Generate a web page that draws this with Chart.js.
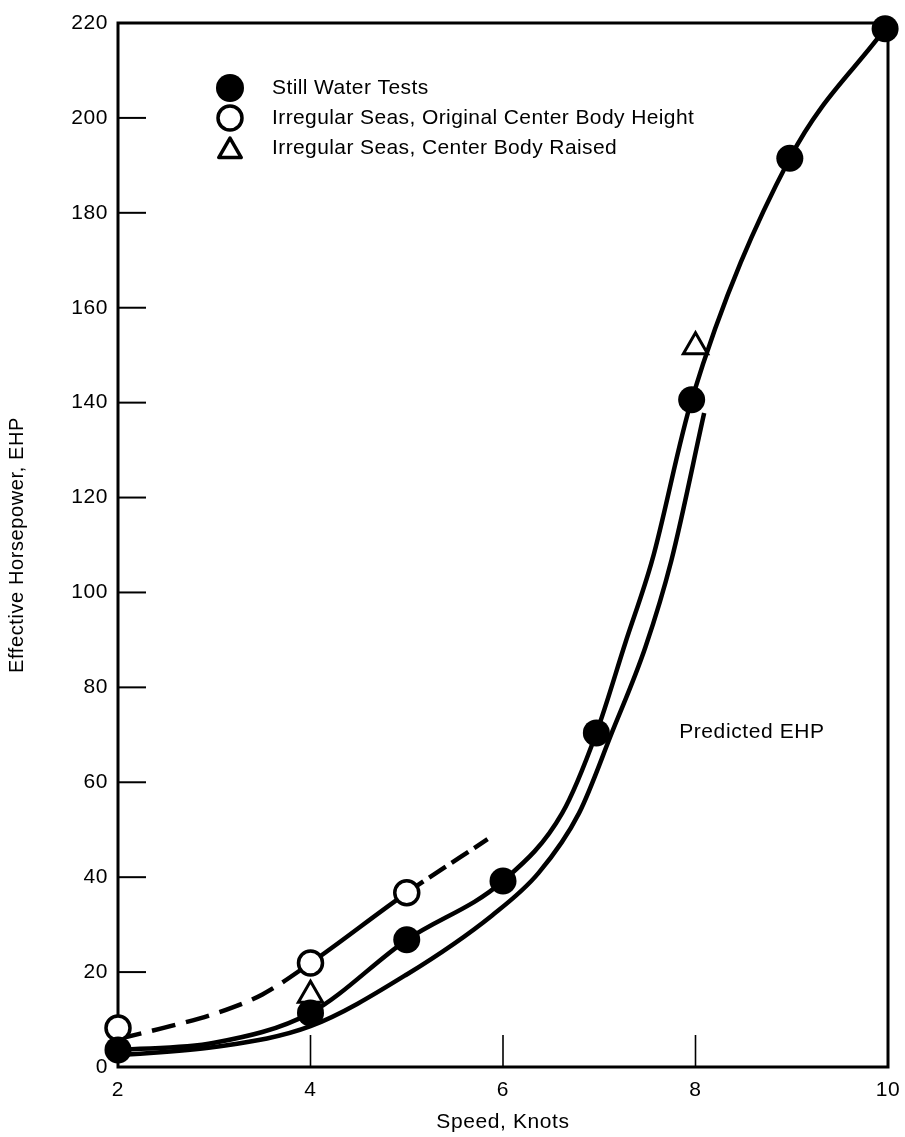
<!DOCTYPE html>
<html><head><meta charset="utf-8">
<script src="https://cdn.jsdelivr.net/npm/chart.js@4.4.0/dist/chart.umd.min.js"></script>
<style>html,body{margin:0;padding:0;background:#fff;}canvas{display:block;}</style>
</head><body>
<canvas id="c" width="905" height="1137"></canvas>
<script>
// ---- data ----
const xTickValues = [2, 4, 6, 8, 10];
const yTickValues = [0, 20, 40, 60, 80, 100, 120, 140, 160, 180, 200, 220];

// markers
const stillWaterX = [2, 4, 5, 6, 6.97, 7.96, 8.98, 9.97];
const stillWaterY = [3.6, 11.4, 26.8, 39.2, 70.4, 140.6, 191.5, 218.8];
const irregularOrigX = [2, 4, 5];
const irregularOrigY = [8.2, 21.9, 36.7];
const irregularRaisedX = [4, 8];
const irregularRaisedY = [15.1, 151.8];

// curves
const stillCurveX = [2, 3, 4, 5, 6, 6.615, 6.97, 7.27, 7.55, 7.96, 8.98, 9.97];
const stillCurveY = [3.6, 5.1, 11.4, 26.8, 39.2, 53.5, 70.4, 89.3, 106.8, 140.6, 191.5, 218.8];
const predictedCurveX = [2, 3, 4, 5, 5.89, 6.37, 6.79, 7.13, 7.48, 7.75, 8.09];
const predictedCurveY = [2.5, 4.2, 8.6, 19.5, 32, 40.9, 53.5, 70.4, 88.5, 106.8, 137.8];
const irregularCurveX = [2, 2.6, 3, 3.5, 4, 5, 5.84];
const irregularCurveY = [5.9, 8.9, 11.2, 15.3, 21.9, 36.7, 48];

const legendLabels = ['Still Water Tests', 'Irregular Seas, Original Center Body Height', 'Irregular Seas, Center Body Raised'];
const xTitle = 'Speed, Knots';
const yTitle = 'Effective Horsepower, EHP';
const noteText = 'Predicted EHP';
const notePos = [7.83, 70.5];

const pts = (xs, ys) => xs.map((x, i) => ({x, y: ys[i]}));
const FONT = '"Liberation Sans", Arial, sans-serif';

Chart.defaults.color = '#000';
Chart.defaults.font.family = FONT;

const framePlugin = {
  id: 'frame',
  beforeDraw(chart) { chart.ctx.letterSpacing = '0.6px'; },
  beforeDatasetsDraw(chart) {
    const {ctx, chartArea: a, scales: {x, y}} = chart;
    ctx.save();
    ctx.strokeStyle = '#000';
    ctx.lineWidth = 3;
    ctx.strokeRect(a.left, a.top, a.right - a.left, a.bottom - a.top);
    ctx.lineWidth = 2;
    yTickValues.forEach(v => {
      if (v === y.min || v === y.max) return;
      const py = y.getPixelForValue(v);
      ctx.beginPath(); ctx.moveTo(a.left, py); ctx.lineTo(a.left + 28, py); ctx.stroke();
    });
    ctx.lineWidth = 1.6;
    xTickValues.forEach(v => {
      if (v === x.min || v === x.max) return;
      const px = x.getPixelForValue(v);
      ctx.beginPath(); ctx.moveTo(px, a.bottom); ctx.lineTo(px, a.bottom - 32); ctx.stroke();
    });
    ctx.restore();
  },
  afterDraw(chart) {
    const {ctx, scales: {x, y}} = chart;
    ctx.save();
    ctx.letterSpacing = '0.6px';
    ctx.fillStyle = '#000';
    ctx.font = '21px ' + FONT;
    ctx.textBaseline = 'middle';
    ctx.textAlign = 'left';
    ctx.fillText(noteText, x.getPixelForValue(notePos[0]), y.getPixelForValue(notePos[1]));
    const lx = 230, tx = 272, rows = [88, 118, 148];
    ctx.letterSpacing = '0.4px';
    legendLabels.forEach((t, i) => ctx.fillText(t, tx, rows[i]));
    ctx.strokeStyle = '#000';
    ctx.beginPath(); ctx.arc(lx, rows[0], 14, 0, Math.PI * 2); ctx.fill();
    ctx.lineWidth = 3.5;
    ctx.beginPath(); ctx.arc(lx, rows[1], 12, 0, Math.PI * 2); ctx.stroke();
    const r = 13, cy = rows[2] + 3;
    ctx.beginPath();
    for (let k = 0; k < 3; k++) {
      const ang = k * 2 * Math.PI / 3;
      const px = lx + Math.sin(ang) * r, py = cy - Math.cos(ang) * r;
      k === 0 ? ctx.moveTo(px, py) : ctx.lineTo(px, py);
    }
    ctx.closePath(); ctx.lineJoin = 'round'; ctx.stroke();
    ctx.restore();
  }
};

const curveStyle = { showLine: true, pointRadius: 0, borderColor: '#000', borderWidth: 4.5,
  cubicInterpolationMode: 'monotone', clip: false };

new Chart(document.getElementById('c'), {
  type: 'scatter',
  data: {
    datasets: [
      { label: legendLabels[0], data: pts(stillWaterX, stillWaterY), pointStyle: 'circle', pointRadius: 13.5,
        backgroundColor: '#000', borderColor: '#000', borderWidth: 0, showLine: false, clip: false },
      { label: legendLabels[1], data: pts(irregularOrigX, irregularOrigY), pointStyle: 'circle', pointRadius: 12,
        backgroundColor: '#fff', borderColor: '#000', borderWidth: 3.5, showLine: false, clip: false },
      { label: legendLabels[2], data: pts(irregularRaisedX, irregularRaisedY), pointStyle: 'triangle', pointRadius: 14,
        backgroundColor: '#fff', borderColor: '#000', borderWidth: 3, showLine: false, clip: false },
      Object.assign({ label: 'Still water curve', data: pts(stillCurveX, stillCurveY) }, curveStyle),
      Object.assign({ label: 'Predicted EHP', data: pts(predictedCurveX, predictedCurveY) }, curveStyle),
      Object.assign({ label: 'Irregular seas curve', data: pts(irregularCurveX, irregularCurveY),
        segment: { borderDash: c => c.p1.parsed.x <= 4.01 ? [24, 11] : (c.p0.parsed.x >= 4.99 ? [20, 7] : undefined) } }, curveStyle)
    ]
  },
  options: {
    responsive: false,
    animation: false,
    devicePixelRatio: 1,
    layout: { padding: { top: 23, right: 11, left: 0, bottom: 0 } },
    plugins: { legend: { display: false }, tooltip: { enabled: false } },
    scales: {
      x: {
        type: 'linear', min: 2, max: 10,
        afterBuildTicks: s => { s.ticks = xTickValues.map(v => ({value: v})); },
        afterFit: s => { s.height = 70; s.paddingLeft = 0; s.paddingRight = 0; },
        grid: { display: false, drawTicks: false },
        border: { display: false },
        ticks: { font: { size: 21 }, padding: 11, maxRotation: 0 },
        title: { display: true, text: xTitle, font: { size: 21 }, padding: { top: 0, bottom: 2 } }
      },
      y: {
        type: 'linear', min: 0, max: 220,
        afterBuildTicks: s => { s.ticks = yTickValues.map(v => ({value: v})); },
        afterFit: s => { s.width = 118; s.paddingTop = 0; s.paddingBottom = 0; },
        grid: { display: false, drawTicks: false },
        border: { display: false },
        ticks: { font: { size: 21 }, padding: 10 },
        title: { display: true, text: yTitle, font: { size: 20 }, padding: { top: 5, bottom: 0 } }
      }
    }
  },
  plugins: [framePlugin]
});
</script>
</body></html>
